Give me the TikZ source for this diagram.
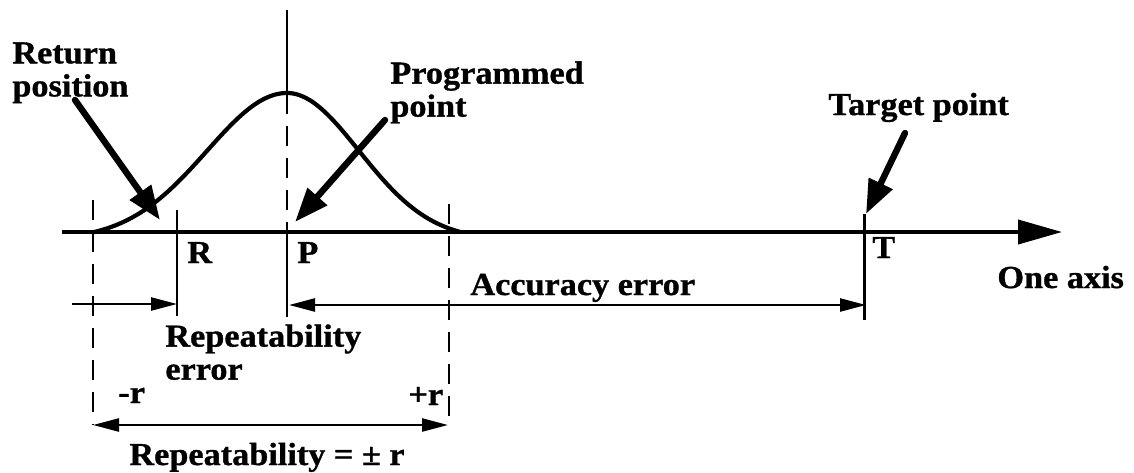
\documentclass[tikz,border=0pt]{standalone}
\usepackage{fontspec}
\setmainfont{Liberation Serif}[FakeStretch=1.07, BoldFeatures={FakeBold=1}]
\usetikzlibrary{arrows.meta}
\begin{document}
\begin{tikzpicture}
% Repeatability and accuracy along one axis
\def\pxsz{0.5pt}
\providecommand{\axisLineWidth}{2pt}
\providecommand{\curveLineWidth}{2.1pt}
\providecommand{\guideLineWidth}{1.2pt}
\providecommand{\pointerLineWidth}{3.2pt}
\begin{scope}[x=\pxsz, y=-\pxsz, line join=round,
  lbl/.style={inner sep=0pt, font=\bfseries\fontsize{16}{16.5}\selectfont},
  guide/.style={line width=\guideLineWidth},
  dashline/.style={line width=\guideLineWidth, dash pattern=on 10pt off 6pt},
  dimline/.style={line width=\guideLineWidth, >={Triangle[length=13pt,width=6.5pt]}},
  pointer/.style={line width=\pointerLineWidth, line cap=round,
    -{Triangle[length=17pt,width=12.5pt]}}]
  \useasboundingbox (0,0) rectangle (1134,472);
  % Points on the axis
  \coordinate (axL) at (62,232);
  \coordinate (axR) at (1062,232);
  \coordinate (lo) at (93,232);
  \coordinate (R) at (177,232);
  \coordinate (P) at (287,232);
  \coordinate (hi) at (449,232);
  \coordinate (T) at (864,232);
  % Bell curve
  \draw[line width=\curveLineWidth]
    plot[domain=93:287, samples=60] (\x, {232-139*(exp(-0.5*((\x-287)/80)^2)-0.055)/0.945})
    -- plot[domain=287:460, samples=60] (\x, {232-139*(exp(-0.5*((\x-287)/72)^2)-0.055)/0.945});
  % Axis
  \draw[line width=\axisLineWidth, -{Triangle[length=22pt,width=12pt]}] (axL) -- (axR);
  % Vertical marks
  \draw[guide] (287,10) -- (287,94);
  \draw[dashline] (287,94) -- (P);
  \draw[guide] (P) -- (287,317);
  \draw[dashline] (93,200) -- (93,425);
  \draw[dashline] (449,204) -- (449,427);
  \draw[guide] (177,210) -- (177,316);
  \draw[line width=1.5pt] (864,214) -- (864,320);
  % Dimension arrows
  \coordinate (repS) at (72,304);
  \coordinate (repE) at (177,304);
  \coordinate (accS) at (289,305);
  \coordinate (accE) at (866,305);
  \coordinate (rngS) at (93,425);
  \coordinate (rngE) at (448,425);
  \draw[dimline, ->] (repS) -- (repE);
  \draw[dimline, <->] (accS) -- (accE);
  \draw[dimline, <->] (rngS) -- (rngE);
  % Labels
  \node[lbl, align=left, anchor=north west] (retLbl) at (12,42) {Return\\position};
  \node[lbl, align=left, anchor=north west] (progLbl) at (390,61) {Programmed\\point};
  \node[lbl, anchor=base west] (tgtLbl) at (828,115) {Target point};
  \node[lbl, anchor=base west] (rLbl) at (187,263) {R};
  \node[lbl, anchor=base west] (pLbl) at (297,263) {P};
  \node[lbl, anchor=base west] (tLbl) at (872,258) {T};
  \node[lbl, anchor=base west] (axisLbl) at (997,288) {One axis};
  \node[lbl, anchor=base west] (accLbl) at (470,295) {Accuracy error};
  \node[lbl, align=left, anchor=north west] (repLbl) at (165,324) {Repeatability\\error};
  \node[lbl, anchor=base west] (minLbl) at (118,403) {-r};
  \node[lbl, anchor=base west] (plusLbl) at (408,405) {+r};
  \node[lbl, anchor=base] (rngLbl) at (267,465) {Repeatability = ± r};
  % Pointers
  \coordinate (retTip) at (160,220);
  \coordinate (progTip) at (295,222);
  \coordinate (tgtTip) at (866,214);
  \draw[pointer] (75,100) -- (retTip);
  \draw[pointer] (385,120) -- (progTip);
  \draw[pointer] (905,133) -- (tgtTip);
\end{scope}
\end{tikzpicture}
\end{document}
